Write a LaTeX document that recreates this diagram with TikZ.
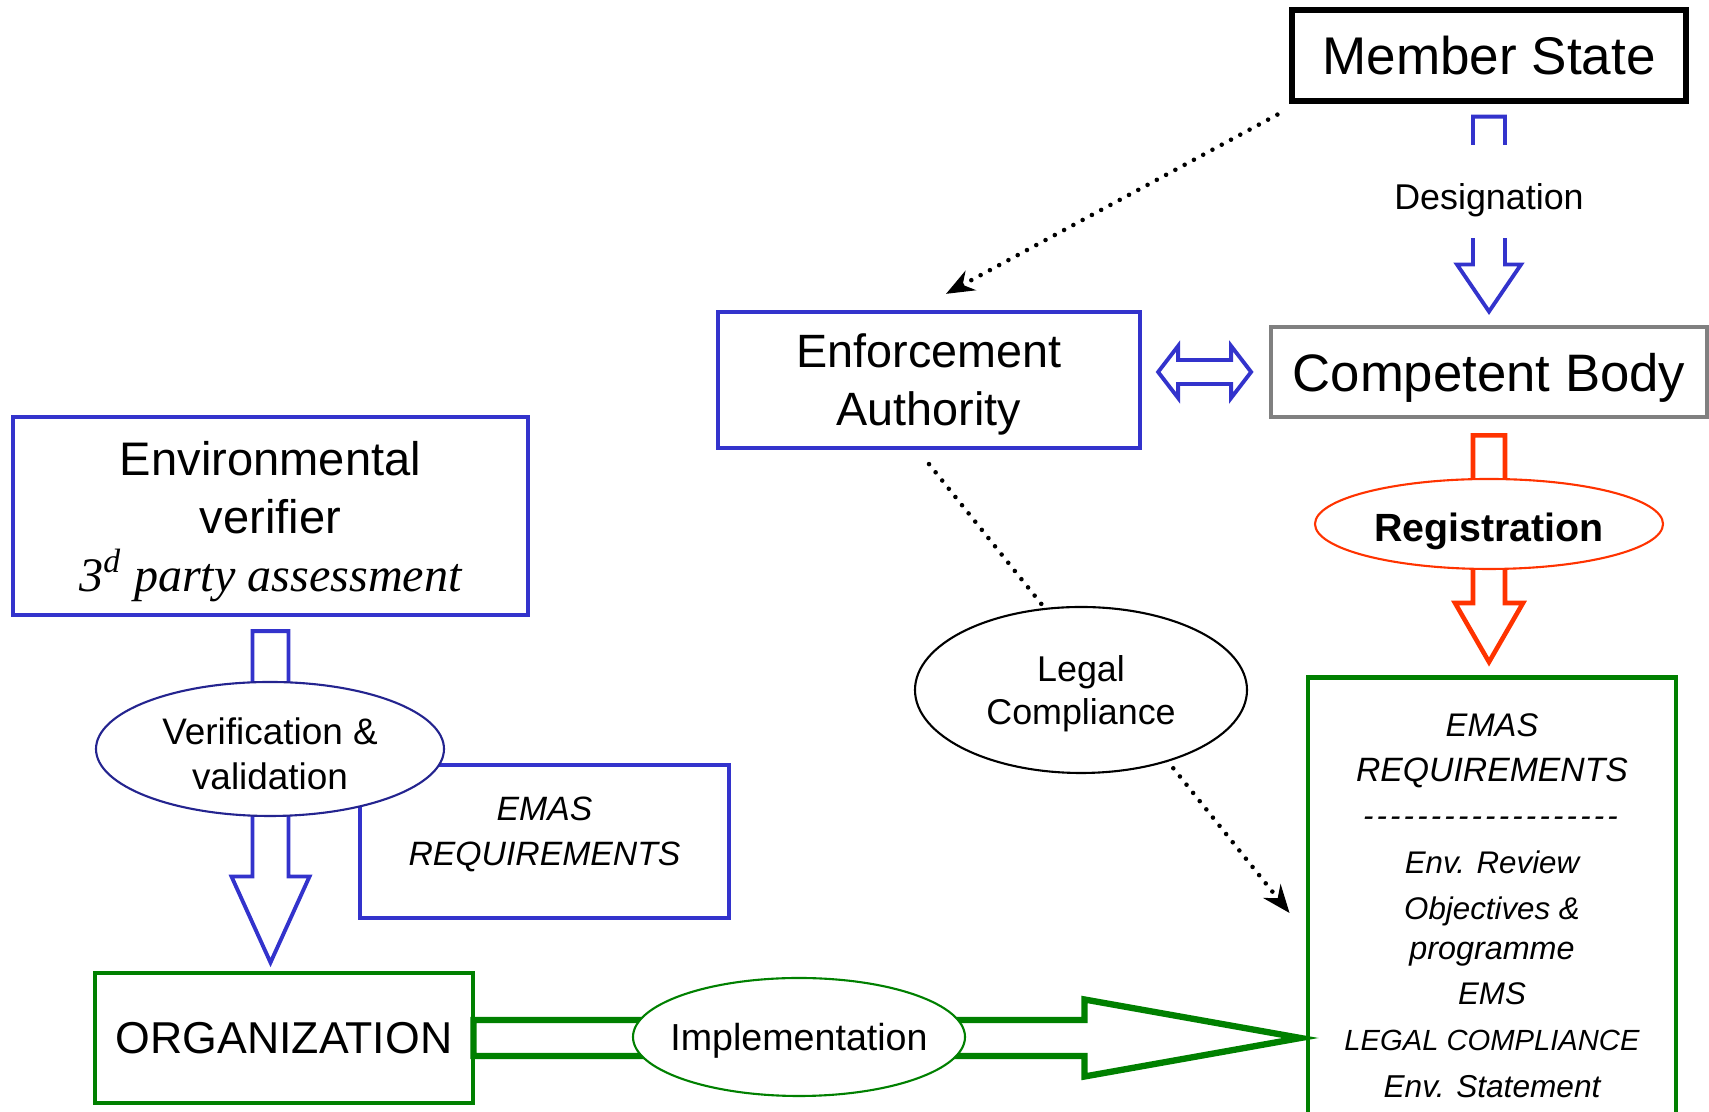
\documentclass[tikz,border=0pt]{standalone}
\usepackage{fontspec}
\setmainfont{Liberation Sans}
\newfontfamily\seriffont{Liberation Serif}
\usetikzlibrary{arrows.meta, calc, shapes.geometric}
\definecolor{bleuemas}{RGB}{51,51,204}
\definecolor{vertemas}{RGB}{0,128,0}
\definecolor{rougeemas}{RGB}{255,51,0}
\definecolor{grisemas}{RGB}{128,128,128}

\begin{document}
\begin{tikzpicture}[
  cadre/.style={draw, inner sep=2pt, line width=1.2pt, text depth=0pt},
  bulle/.style={ellipse, draw, fill=white, inner sep=0pt, line width=0.6pt, text depth=0pt},
  pointille/.style={line width=1.3pt, dash pattern=on 0pt off 3pt, line cap=round},
  bloc/.style={fill=white, line width=1.1pt, line join=miter}
]
  \useasboundingbox (0,0) rectangle (17.09,11.12);
  \clip (0,0) rectangle (17.09,11.12);

  % Boîtes principales
  \node[cadre, draw=black, line width=1.5pt, minimum width=3.94cm, minimum height=0.91cm,
        font=\fontsize{15.1}{18}\selectfont] (ms) at (14.89,10.565) {Member State};
  \node[cadre, draw=grisemas, line width=1.4pt, minimum width=4.36cm, minimum height=0.90cm,
        font=\fontsize{15}{18}\selectfont] (cb) at (14.89,7.40) {Competent Body};
  \node[cadre, draw=bleuemas, minimum width=4.22cm, minimum height=1.36cm, align=center,
        font=\fontsize{13.3}{16.5}\selectfont] (ea) at (9.29,7.32) {Enforcement\\Authority};
  \node[cadre, draw=bleuemas, minimum width=5.15cm, minimum height=1.98cm, align=center,
        font=\fontsize{13.4}{16.5}\selectfont] (ev) at (2.705,5.96)
        {Environmental\\verifier\\{\seriffont\itshape\fontsize{13.7}{16.5}\selectfont 3\textsuperscript{d} party assessment}};
  \node[cadre, draw=bleuemas, minimum width=3.69cm, minimum height=1.53cm] (emasG) at (5.445,2.705) {};
  \node[align=center, font=\itshape\fontsize{9.6}{12.8}\selectfont] (emasGtxt) at (5.445,2.78) {EMAS\\REQUIREMENTS};
  \node[cadre, draw=vertemas, line width=1.4pt, minimum width=3.78cm, minimum height=1.30cm,
        font=\fontsize{12.7}{15}\selectfont] (org) at (2.84,0.74) {ORGANIZATION};
  \node[cadre, draw=vertemas, line width=1.4pt, minimum width=3.68cm, minimum height=4.8cm,
        anchor=north] (emasD) at (14.92,4.37) {};

  % Exigences EMAS (boîte verte)
  \foreach \y/\taille/\txt [count=\i] in {3.87/9.3/EMAS, 3.39/9.6/REQUIREMENTS,
      2.50/8.9/Env. Review, 2.01/8.9/Objectives \&, 1.58/9.2/programme, 1.18/8.9/EMS,
      0.72/8.3/LEGAL COMPLIANCE, 0.25/9.0/Env. Statement} {
    \node[font=\itshape\fontsize{\taille}{12}\selectfont] (ligne\i) at (14.92,\y) {\txt};
  }
  \node[font=\itshape\fontsize{8.9}{12}\selectfont] (tirets) at (14.92,2.905)
        {\foreach \k in {1,...,19}{-\kern0.9pt}};

  % Liens en pointillés
  \draw[pointille, -{Stealth[length=2.8mm, width=2.2mm]}]
        ($(ms.south west)+(-0.12,-0.11)$) -- ($(ea.north)+(0.17,0.16)$);
  \draw[pointille, -{Stealth[length=2.8mm, width=2.2mm]}]
        ($(ea.south)+(0,-0.14)$) -- ($(emasD.north west)+(-0.16,-2.38)$);

  % Flèches creuses
  \draw[bloc, draw=bleuemas] ($(ms.south)+(-0.16,-0.13)$) -- ++(0.32,0)
        |- ($(cb.north)+(0.32,0.60)$) -- ($(cb.north)+(0,0.13)$) -- ++(-0.32,0.47) -- ++(0.16,0) -- cycle;
  \node[fill=white, inner sep=1pt, minimum height=0.93cm, text height=9.7pt, text depth=0pt,
        font=\fontsize{10.2}{12}\selectfont] (desig) at (14.89,9.2) {Designation};
  \draw[bloc, draw=bleuemas] ($(ea.east |- cb.west)+(0.16,0)$) -- ++(0.20,0.26) -- ++(0,-0.14)
        -- ++(0.53,0) -- ++(0,0.14) -- ++(0.20,-0.26) -- ++(-0.20,-0.26) -- ++(0,0.14)
        -- ++(-0.53,0) -- ++(0,-0.14) -- cycle;
  \draw[bloc, draw=rougeemas, line width=1.3pt] ($(cb.south)+(-0.16,-0.16)$) -- ++(0.32,0)
        |- ($(cb.south |- emasD.north)+(0.34,0.72)$) -- ($(cb.south |- emasD.north)+(0,0.13)$)
        -- ++(-0.34,0.59) -- ++(0.18,0) -- cycle;
  \draw[bloc, draw=bleuemas] ($(ev.south)+(-0.18,-0.14)$) -- ++(0.36,0)
        |- ($(ev.south |- org.north)+(0.39,0.94)$) -- ($(ev.south |- org.north)+(0,0.08)$)
        -- ++(-0.39,0.86) -- ++(0.21,0) -- cycle;
  \draw[bloc, draw=vertemas, line width=1.8pt] ($(org.east)+(-0.02,0.18)$)
        -| ($(org.east -| emasD.west)+(-2.21,0.385)$) -- ($(org.east -| emasD.west)+(-0.05,0)$)
        -- ++(-2.16,-0.385) -- ++(0,0.205) -- ($(org.east)+(-0.02,-0.18)$) -- cycle;

  % Bulles
  \node[bulle, draw=rougeemas, minimum width=3.48cm, minimum height=0.90cm, text height=10.1pt,
        font=\bfseries\fontsize{11.2}{13}\selectfont] (reg) at (14.89,5.88) {Registration};
  \node[bulle, draw=black, minimum width=3.32cm, minimum height=1.66cm, align=center,
        font=\fontsize{10.2}{12.5}\selectfont] (lc) at (10.81,4.22) {Legal\\Compliance};
  \node[bulle, draw=bleuemas!70!black, minimum width=3.48cm, minimum height=1.34cm, align=center,
        font=\fontsize{10.5}{12.8}\selectfont] (verif) at (2.70,3.63)
        {\rule{0pt}{10.2pt}Verification \&\\validation};
  \node[bulle, draw=vertemas, minimum width=3.32cm, minimum height=1.18cm,
        font=\fontsize{10.7}{13}\selectfont] (impl) at (7.99,0.75) {\makebox[0pt]{Implementation}};
\end{tikzpicture}
\end{document}
